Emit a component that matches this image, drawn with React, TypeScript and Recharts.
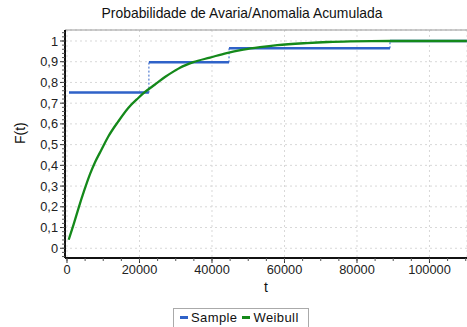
import { LineChart, Line, XAxis, YAxis, CartesianGrid } from "recharts";

// Weibull curve
const weibullT = [
  470, 1850, 3230, 4780, 6430, 7800, 9460, 11400, 14150, 16900, 19670, 21520, 24280, 27030, 29790, 31170,
  34840, 39450, 44050, 48640, 53240, 58000, 66120, 72000, 78070, 84000, 89100, 95000, 100000, 105000, 110300,
];
const weibullF = [
  0.041, 0.116, 0.196, 0.28, 0.361, 0.417, 0.474, 0.539, 0.612, 0.677, 0.725, 0.754, 0.79, 0.826, 0.857, 0.871,
  0.898, 0.92, 0.942, 0.958, 0.97, 0.98, 0.99, 0.995, 0.998, 0.9995, 1, 1, 1, 1, 1,
];

// empirical (sample) steps
const sampleT = [550, 22600, 44700, 89100];
const sampleF = [0.751, 0.897, 0.965, 1.0];
const sampleEnd = 110350;

const xTicks = [0, 20000, 40000, 60000, 80000, 100000];
const yTicks = [0, 0.1, 0.2, 0.3, 0.4, 0.5, 0.6, 0.7, 0.8, 0.9, 1];
const xMinor: number[] = [];
for (let v = 0; v <= 110000; v += 5000) xMinor.push(v);
const yMinor: number[] = [];
for (let i = -2; i <= 52; i++) yMinor.push(i / 50);

const xDomain = [-550, 110350];
const yDomain = [-0.047, 1.053];

const BLUE = "#2f62c8";
const GREEN = "#14891a";
const FONT = "'Liberation Sans', Arial, sans-serif";

const weibullData = weibullT.map((t, i) => ({ t, f: weibullF[i] }));

const stepData: { t: number; f: number | null }[] = [];
sampleT.forEach((t, i) => {
  const next = i < sampleT.length - 1 ? sampleT[i + 1] : sampleEnd;
  stepData.push({ t, f: sampleF[i] }, { t: next, f: sampleF[i] }, { t: next, f: null });
});

const riseData: { t: number; f: number | null }[] = [];
sampleT.forEach((t, i) => {
  if (i === 0) return;
  riseData.push({ t, f: sampleF[i - 1] }, { t, f: sampleF[i] }, { t, f: null });
});

const fmtY = (v: number) => String(Math.round(v * 10) / 10).replace(".", ",");
const tickFont = { fontSize: 12.8, fill: "#222", fontFamily: FONT };

export default function App() {
  return (
    <div style={{ position: "absolute", left: 0, top: 0, width: 467, height: 327, background: "#fff", fontFamily: FONT, overflow: "hidden" }}>
      <div style={{ position: "absolute", left: 0, width: 484, top: 5, textAlign: "center", fontSize: 13.9, color: "#111" }}>
        Probabilidade de Avaria/Anomalia Acumulada
      </div>
      <LineChart width={467} height={327} margin={{ top: 29, right: 0, bottom: 39, left: 0 }}>
        <CartesianGrid xAxisId="main" yAxisId="main" stroke="#d8d8d8" strokeDasharray="2 3" />
        <XAxis xAxisId="top" orientation="top" type="number" dataKey="t" domain={xDomain} height={1} tick={false} tickLine={false} axisLine={{ stroke: "#999", strokeWidth: 1 }} allowDataOverflow />
        <XAxis
          xAxisId="main"
          type="number"
          dataKey="t"
          domain={xDomain}
          ticks={xTicks}
          interval={0}
          height={29}
          tickSize={4}
          tick={tickFont}
          tickLine={{ stroke: "#333" }}
          axisLine={false}
          allowDataOverflow
          label={{ value: "t", position: "insideBottom", offset: -4, fontSize: 14, fill: "#111", fontFamily: FONT }}
        />
        <XAxis xAxisId="aminor" type="number" dataKey="t" domain={xDomain} ticks={xMinor} interval={0} height={1} tickSize={3} tickFormatter={() => ""} tickLine={{ stroke: "#555" }} axisLine={{ stroke: "#111", strokeWidth: 2 }} allowDataOverflow />
        <YAxis
          yAxisId="main"
          type="number"
          domain={yDomain}
          ticks={yTicks}
          interval={0}
          width={64}
          tickSize={4}
          tickFormatter={fmtY}
          tick={tickFont}
          tickLine={{ stroke: "#333" }}
          axisLine={false}
          allowDataOverflow
          label={{ value: "F(t)", angle: -90, position: "insideLeft", offset: 20, fontSize: 14, fill: "#111", fontFamily: FONT }}
        />
        <YAxis yAxisId="aminor" type="number" domain={yDomain} ticks={yMinor} interval={0} width={1} tickSize={3} tickFormatter={() => ""} tickLine={{ stroke: "#555" }} axisLine={{ stroke: "#111", strokeWidth: 2 }} allowDataOverflow />
        <Line xAxisId="main" yAxisId="main" data={riseData} dataKey="f" stroke={BLUE} strokeWidth={1} strokeDasharray="2 2" dot={false} connectNulls={false} isAnimationActive={false} />
        <Line xAxisId="main" yAxisId="main" data={stepData} dataKey="f" name="Sample" stroke={BLUE} strokeWidth={2.5} dot={false} connectNulls={false} isAnimationActive={false} />
        <Line xAxisId="main" yAxisId="main" data={weibullData} dataKey="f" name="Weibull" type="monotone" stroke={GREEN} strokeWidth={2.3} dot={false} isAnimationActive={false} />
      </LineChart>
      <div
        style={{
          position: "absolute",
          left: 173,
          top: 308,
          width: 136,
          height: 22,
          border: "1px solid #aaa",
          background: "#fff",
          fontSize: 13,
          color: "#111",
          display: "flex",
          alignItems: "center",
          gap: 5,
          paddingLeft: 6,
          boxSizing: "border-box",
        }}
      >
        {[
          { name: "Sample", color: BLUE },
          { name: "Weibull", color: GREEN },
        ].map((s) => (
          <span key={s.name} style={{ display: "flex", alignItems: "center", gap: 3, marginTop: -3, letterSpacing: 0.4 }}>
            <span style={{ display: "inline-block", width: 8, height: 3, background: s.color }} />
            <span>{s.name}</span>
          </span>
        ))}
      </div>
    </div>
  );
}
